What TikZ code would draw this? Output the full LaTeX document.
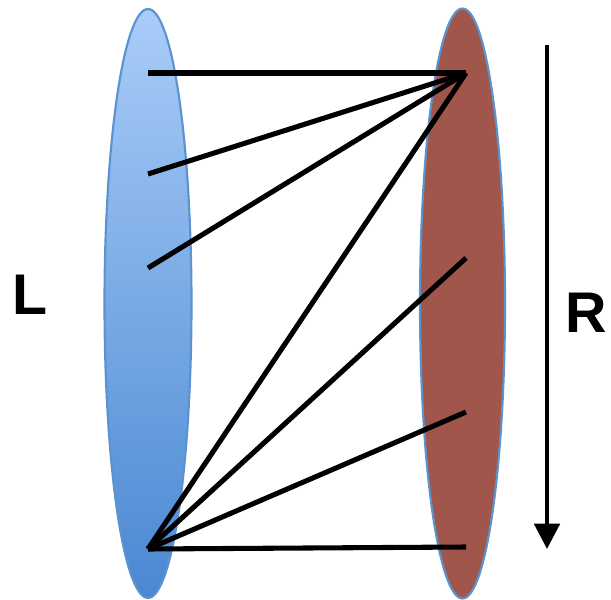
\documentclass[tikz,border=0pt]{standalone}
\usepackage{fontspec}
\setsansfont{Liberation Sans}
\usetikzlibrary{arrows.meta, positioning, shapes.geometric}
\definecolor{cblue}{HTML}{A9CCF8}
\definecolor{cbluedark}{HTML}{4A88D2}
\definecolor{cedge}{HTML}{5B93D0}
\definecolor{cbrown}{HTML}{A1564C}
\tikzset{
  every picture/.style={font=\sffamily\bfseries},
  side/.style={line width=1.6pt, draw=cedge},
  edge/.style={line width=3.8pt, draw=black},
  order/.style={-{Triangle[length=19pt, width=19pt]}, line width=3pt},
  label/.style={font=\sffamily\bfseries\fontsize{43}{43}\selectfont},
}
\begin{document}
\begin{tikzpicture}[x=0.75pt, y=-0.75pt]
  \useasboundingbox (0,0) rectangle (611,600);
  % the two sides
  \shade[side, top color=cblue, bottom color=cbluedark] (148,303.5) ellipse [x radius=43.5, y radius=294.5];
  \draw[side, fill=cbrown] (462.5,303.5) ellipse [x radius=42.5, y radius=295];
  % end points
  \coordinate (l1) at (148,73);
  \coordinate (l2) at (148,174);
  \coordinate (l3) at (148,268);
  \coordinate (l4) at (148,549);
  \coordinate (r1) at (466,73);
  \coordinate (r2) at (466,258);
  \coordinate (r3) at (466,412);
  \coordinate (r4) at (466,547);
  % edges
  \foreach \a in {l1,l2,l3,l4} \draw[edge] (\a) -- (r1);
  \foreach \b in {r2,r3,r4} \draw[edge] (l4) -- (\b);
  % labels
  \node[label] (lname) at (30,295) {L};
  \node[label] (rname) at (586,313) {R};
  \coordinate (top) at (547,45);
  \coordinate (bot) at (547,549);
  \draw[order] (top) -- (bot);
\end{tikzpicture}
\end{document}
